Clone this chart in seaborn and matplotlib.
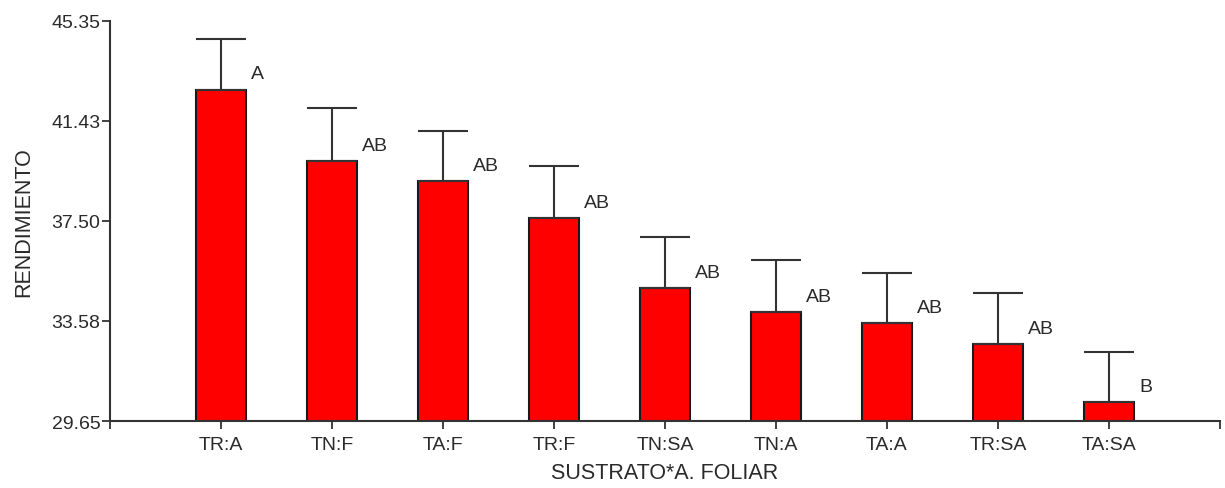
import matplotlib
matplotlib.use("Agg")
import matplotlib.pyplot as plt
import seaborn as sns
import pandas as pd

# Mean yield per substrate x foliar treatment, with error and Tukey groups
categories = ["TR:A", "TN:F", "TA:F", "TR:F", "TN:SA", "TN:A", "TA:A", "TR:SA", "TA:SA"]
means = [42.64, 39.84, 39.05, 37.61, 34.86, 33.91, 33.49, 32.67, 30.38]
errors = [1.97, 2.07, 1.97, 2.04, 1.99, 2.05, 1.96, 1.99, 1.99]
groups = ["A", "AB", "AB", "AB", "AB", "AB", "AB", "AB", "B"]
y_ticks = [29.65, 33.58, 37.50, 41.43, 45.35]

sns.set_style("white")
plt.rcParams["font.family"] = ["Liberation Sans", "DejaVu Sans"]

text_color = "#2a2a2a"
df = pd.DataFrame({"trat": categories, "rend": means})

fig, ax = plt.subplots(figsize=(12.25, 4.89), dpi=100)
fig.subplots_adjust(left=0.0898, right=0.9959, bottom=0.137, top=0.956)

sns.barplot(data=df, x="trat", y="rend", order=categories, color="#FF0000",
            saturation=1, width=0.45, edgecolor="#1a1a1a", linewidth=1.5,
            errorbar=None, ax=ax)
# bars start from the axis floor
for patch, m in zip(ax.patches, means):
    patch.set_y(y_ticks[0])
    patch.set_height(m - y_ticks[0])

xs = list(range(len(categories)))
ax.errorbar(xs, means, yerr=[[0] * len(errors), errors], fmt="none",
            ecolor="#333333", elinewidth=1.5, capsize=18, capthick=1.5, zorder=1)

for x, m, g in zip(xs, means, groups):
    ax.text(x + 0.27, m + 0.62, g, ha="left", va="center",
            fontsize=14, color=text_color)

ax.set_xlim(-1, 9)
ax.set_ylim(y_ticks[0], y_ticks[-1])
ax.set_yticks(y_ticks)
ax.set_yticklabels([f"{v:.2f}" for v in y_ticks])
ax.set_xticks(xs, minor=False)
ax.set_xticks([-1, 9], minor=True)

for side in ("top", "right"):
    ax.spines[side].set_visible(False)
for side in ("left", "bottom"):
    ax.spines[side].set_color("#333333")
    ax.spines[side].set_linewidth(1.5)

ax.tick_params(axis="both", which="both", direction="out", length=6, width=1.3,
               bottom=True, left=True, color="#333333", labelcolor=text_color,
               labelsize=14)
ax.tick_params(axis="y", pad=1)
ax.tick_params(axis="x", pad=5)

ax.set_xlabel("SUSTRATO*A. FOLIAR", fontsize=15.5, color=text_color, labelpad=6)
ax.set_ylabel("RENDIMIENTO", fontsize=15.5, color=text_color, labelpad=12)

fig.savefig("out.png", dpi=100)
